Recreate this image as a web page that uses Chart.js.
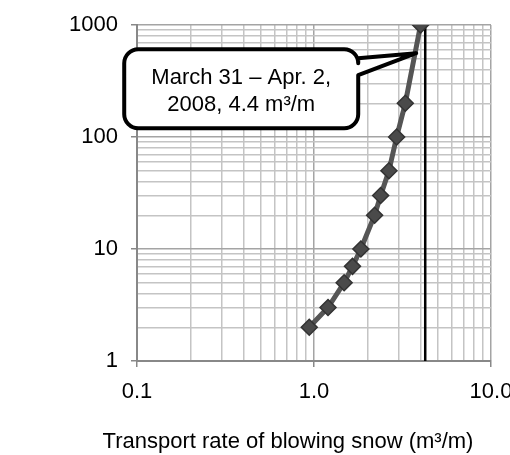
<!DOCTYPE html>
<html>
<head>
<meta charset="utf-8">
<script src="https://cdn.jsdelivr.net/npm/chart.js@4.4.0/dist/chart.umd.min.js"></script>
<style>
  html, body { margin: 0; padding: 0; background: #fff; }
  #wrap { width: 510px; height: 455px; }
</style>
</head>
<body>
<div id="wrap"><canvas id="chart"></canvas></div>
<script>
// Transport rate (x) vs. cumulative height/count (y)
const transportRate = [0.94, 1.2, 1.48, 1.65, 1.84, 2.2, 2.38, 2.65, 2.93, 3.28, 4.0];
const heightValues  = [2, 3, 5, 7, 10, 20, 30, 50, 100, 200, 1000];

// total transport rate marker (vertical line as drawn)
const totalRate = 4.25;
const totalLineY = [1, 1000];

// axis ranges / labelled ticks
const xTickLabels = [0.1, 1, 10];
const yTickLabels = [1, 10, 100, 1000];

const xTitle = 'Transport rate of blowing snow (m³/m)';
const calloutLines = ['March 31 – Apr. 2,', '2008, 4.4 m³/m'];
const calloutTip = { x: 3.78, y: 560 };

const FONT = "'Liberation Sans', Arial, sans-serif";
Chart.defaults.font.family = FONT;
Chart.defaults.color = '#000';

function isDecade(v) {
    const l = Math.log10(v);
    return Math.abs(l - Math.round(l)) < 1e-9;
}

// 1..9 per decade, like the spreadsheet log axis
function logTicks(min, max) {
    const out = [];
    for (let e = Math.round(Math.log10(min)); Math.pow(10, e) <= max; e++) {
        for (let s = 1; s <= 9; s++) {
            const v = +(s * Math.pow(10, e)).toPrecision(3);
            if (v > max) break;
            out.push({ value: v, major: isDecade(v) });
        }
    }
    return out;
}

// speech-bubble style callout
const calloutPlugin = {
    id: 'callout',
    afterDatasetsDraw(chart) {
        const ctx = chart.ctx;
        const tx = chart.scales.x.getPixelForValue(calloutTip.x);
        const ty = chart.scales.y.getPixelForValue(calloutTip.y);
        const left = tx - 292, right = tx - 58, top = ty - 4, bottom = ty + 75, r = 14;

        ctx.save();
        ctx.lineWidth = 4;
        ctx.strokeStyle = '#000';
        ctx.fillStyle = '#fff';
        ctx.lineJoin = 'round';
        ctx.beginPath();
        ctx.moveTo(left + r, top);
        ctx.lineTo(right - r, top);
        ctx.arcTo(right, top, right, top + r, r);
        ctx.lineTo(right, top + 9);
        ctx.lineTo(tx, ty);
        ctx.lineTo(right, top + 26);
        ctx.lineTo(right, bottom - r);
        ctx.arcTo(right, bottom, right - r, bottom, r);
        ctx.lineTo(left + r, bottom);
        ctx.arcTo(left, bottom, left, bottom - r, r);
        ctx.lineTo(left, top + r);
        ctx.arcTo(left, top, left + r, top, r);
        ctx.closePath();
        ctx.fill();
        ctx.stroke();

        ctx.fillStyle = '#000';
        ctx.font = '22px ' + FONT;
        ctx.textAlign = 'center';
        ctx.textBaseline = 'middle';
        const cx = (left + right) / 2;
        calloutLines.forEach((line, i) => {
            ctx.fillText(line, cx, top + 29 + i * 27);
        });
        ctx.restore();
    }
};

// x axis title drawn under the tick labels
const titlePlugin = {
    id: 'xtitle',
    afterDraw(chart) {
        const ctx = chart.ctx;
        ctx.save();
        ctx.fillStyle = '#000';
        ctx.font = '22px ' + FONT;
        ctx.textAlign = 'center';
        ctx.textBaseline = 'middle';
        ctx.fillText(xTitle, 288, 442);
        ctx.restore();
    }
};

const points = transportRate.map((x, i) => ({ x: x, y: heightValues[i] }));
const totalLine = totalLineY.map(y => ({ x: totalRate, y: y }));

const gridOpts = {
    color: c => c.tick && c.tick.major ? '#a4a4a4' : '#c4c4c4',
    lineWidth: 1.5,
    tickColor: c => c.tick && c.tick.major ? '#888' : 'rgba(0,0,0,0)',
    tickLength: 6
};

new Chart(document.getElementById('chart').getContext('2d'), {
    type: 'scatter',
    data: {
        datasets: [{
            data: points,
            showLine: true,
            borderColor: '#555555',
            borderWidth: 5,
            pointStyle: 'rectRot',
            pointRadius: 8,
            pointBackgroundColor: '#4a4a4a',
            pointBorderColor: '#333333',
            pointBorderWidth: 1.5,
            order: 1
        }, {
            data: totalLine,
            showLine: true,
            borderColor: '#000',
            borderWidth: 2.5,
            pointRadius: 0,
            order: 2
        }]
    },
    options: {
        responsive: true,
        maintainAspectRatio: false,
        animation: false,
        layout: { padding: { left: 0, right: 19, top: 25, bottom: 0 } },
        plugins: {
            legend: { display: false },
            tooltip: { enabled: false }
        },
        scales: {
            x: {
                type: 'logarithmic',
                min: xTickLabels[0],
                max: xTickLabels[xTickLabels.length - 1],
                afterBuildTicks: s => { s.ticks = logTicks(s.min, s.max); },
                afterFit: s => { s.height = 94; s.paddingLeft = 0; s.paddingRight = 0; },
                border: { color: '#888', width: 2 },
                grid: gridOpts,
                ticks: {
                    autoSkip: false,
                    maxRotation: 0,
                    padding: 12,
                    font: { size: 22 },
                    callback: v => xTickLabels.includes(v) ? v.toFixed(1) : ''
                }
            },
            y: {
                type: 'logarithmic',
                min: yTickLabels[0],
                max: yTickLabels[yTickLabels.length - 1],
                afterBuildTicks: s => { s.ticks = logTicks(s.min, s.max); },
                afterFit: s => { s.width = 137; s.paddingTop = 0; s.paddingBottom = 0; },
                border: { color: '#888', width: 2 },
                grid: gridOpts,
                ticks: {
                    autoSkip: false,
                    padding: 13,
                    font: { size: 22 },
                    callback: v => yTickLabels.includes(v) ? String(v) : ''
                }
            }
        }
    },
    plugins: [calloutPlugin, titlePlugin]
});
</script>
</body>
</html>
